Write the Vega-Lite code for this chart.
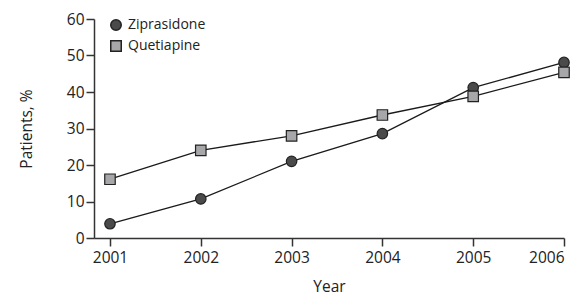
{
  "$schema": "https://vega.github.io/schema/vega-lite/v6.json",
  "width": 470,
  "height": 219,
  "autosize": "none",
  "padding": {"left": 94, "top": 19, "right": 23, "bottom": 60},
  "config": {
    "view": {"stroke": null},
    "font": "Open Sans",
    "axis": {
      "domainColor": "#333",
      "domainWidth": 1.5,
      "tickColor": "#333",
      "tickWidth": 1.5,
      "tickSize": 8,
      "grid": false,
      "labelFont": "Open Sans",
      "labelFontSize": 15.5,
      "labelColor": "#222",
      "titleFont": "Open Sans",
      "titleFontSize": 15.5,
      "titleFontWeight": "normal",
      "titleColor": "#222"
    }
  },
  "data": {
    "values": [
      {"Year": 2001, "Drug": "Ziprasidone", "Patients": 3.9},
      {"Year": 2002, "Drug": "Ziprasidone", "Patients": 10.7},
      {"Year": 2003, "Drug": "Ziprasidone", "Patients": 21.0},
      {"Year": 2004, "Drug": "Ziprasidone", "Patients": 28.6},
      {"Year": 2005, "Drug": "Ziprasidone", "Patients": 41.2},
      {"Year": 2006, "Drug": "Ziprasidone", "Patients": 48.1},
      {"Year": 2001, "Drug": "Quetiapine", "Patients": 16.1},
      {"Year": 2002, "Drug": "Quetiapine", "Patients": 24.0},
      {"Year": 2003, "Drug": "Quetiapine", "Patients": 28.0},
      {"Year": 2004, "Drug": "Quetiapine", "Patients": 33.7},
      {"Year": 2005, "Drug": "Quetiapine", "Patients": 38.8},
      {"Year": 2006, "Drug": "Quetiapine", "Patients": 45.4}
    ]
  },
  "encoding": {
    "x": {
      "field": "Year",
      "type": "quantitative",
      "scale": {"domain": [2000.824, 2006], "nice": false, "zero": false},
      "axis": {"values": [2001, 2002, 2003, 2004, 2005, 2006], "format": "d", "title": "Year", "titlePadding": 14, "labelPadding": 4}
    },
    "y": {
      "field": "Patients",
      "type": "quantitative",
      "scale": {"domain": [0, 60], "nice": false},
      "axis": {"values": [0, 10, 20, 30, 40, 50, 60], "title": "Patients, %", "titlePadding": 32, "labelPadding": 2}
    }
  },
  "layer": [
    {
      "mark": {"type": "line", "color": "#1a1a1a", "strokeWidth": 1.3},
      "encoding": {"detail": {"field": "Drug"}}
    },
    {
      "mark": {"type": "point", "filled": true, "size": 110, "stroke": "#222", "strokeWidth": 1.2, "opacity": 1},
      "encoding": {
        "shape": {
          "field": "Drug",
          "type": "nominal",
          "scale": {"domain": ["Ziprasidone", "Quetiapine"], "range": ["circle", "square"]},
          "legend": {
            "title": null,
            "orient": "none",
            "legendX": 15,
            "legendY": -1,
            "labelFont": "Open Sans",
            "labelFontSize": 14,
            "labelColor": "#222",
            "symbolSize": 110,
            "rowPadding": 3,
            "labelOffset": 5,
            "encode": {"symbols": {"update": {"stroke": {"value": "#222"}, "strokeWidth": {"value": 1.2}}}}
          }
        },
        "fill": {
          "field": "Drug",
          "type": "nominal",
          "scale": {"domain": ["Ziprasidone", "Quetiapine"], "range": ["#4a4a4a", "#a7a7a9"]},
          "legend": null
        }
      }
    }
  ]
}
